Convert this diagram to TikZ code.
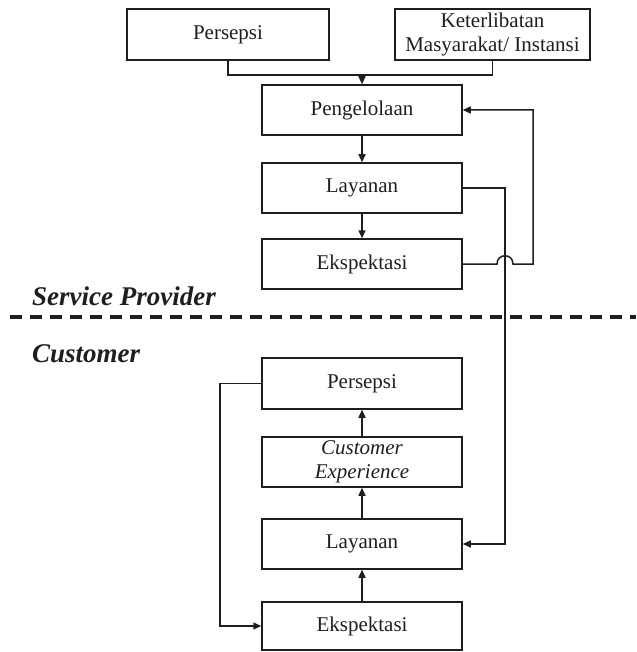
\documentclass[tikz,border=0pt]{standalone}
\usepackage{fontspec}
\setmainfont{Liberation Serif}
\usetikzlibrary{arrows.meta}
\definecolor{ink}{HTML}{1E1E1E}
\tikzset{
  box/.style={draw=ink, line width=1.5pt, minimum width=200pt, minimum height=50pt, inner sep=0pt,
              align=center, font=\fontsize{21}{24}\selectfont, text=ink},
  conn/.style={draw=ink, line width=1.5pt},
  arr/.style={conn, -{Triangle[length=8pt,width=7pt]}},
  side/.style={font=\fontsize{27}{30}\selectfont\bfseries\itshape, text=ink, inner sep=0pt, anchor=base west}
}
\begin{document}
\begin{tikzpicture}[x=1pt,y=-1pt]
\useasboundingbox (0,0) rectangle (636,652);
% top row
\node[box, minimum width=202pt, minimum height=51pt] (p1) at (228,34.5) {Persepsi};
\node[box, minimum width=195pt, minimum height=51pt] (k) at (492.5,34.5) {Keterlibatan\\Masyarakat/ Instansi};
% service provider column
\node[box] (g) at (362,110) {Pengelolaan};
\node[box] (l1) at (362,188) {Layanan};
\node[box] (e1) at (362,264) {Ekspektasi};
% customer column
\node[box, minimum height=51pt] (p2) at (362,383.5) {Persepsi};
\node[box] (ce) at (362,462) {\itshape Customer\\\itshape Experience};
\node[box] (l2) at (362,544) {Layanan};
\node[box, minimum height=48pt] (e2) at (362,626) {Ekspektasi};
% labels and divider
\node[side] (sp) at (32,305) {Service Provider};
\node[side] (cu) at (32,362) {Customer};
\coordinate (dl) at (10,317);
\coordinate (dr) at (636,317);
\draw[draw=ink, line width=4.5pt, dash pattern=on 12pt off 8pt] (dl) -- (dr);
% top merge
\coordinate (mj) at (362,75);
\draw[conn] (p1.south) |- (k.south |- mj) -- (k.south);
\draw[arr] (mj) -- (g.north);
% vertical flow (provider)
\draw[arr] (g.south) -- (l1.north);
\draw[arr] (l1.south) -- (e1.north);
% Ekspektasi feedback with hop
\coordinate (h1) at (497,264);
\coordinate (h2) at (513,264);
\coordinate (fb) at (533,264);
\draw[arr] (e1.east) -- (h1) .. controls (497,253) and (513,253) .. (h2) -- (fb) |- (g.east);
% Layanan to customer Layanan
\coordinate (lr) at (505,188);
\draw[arr] (l1.east) -- (lr) |- (l2.east);
% customer flow
\draw[arr] (e2.north) -- (l2.south);
\draw[arr] (l2.north) -- (ce.south);
\draw[arr] (ce.north) -- (p2.south);
\coordinate (ll) at (220,383.5);
\draw[arr] (p2.west) -- (ll) |- (e2.west);
\end{tikzpicture}
\end{document}
